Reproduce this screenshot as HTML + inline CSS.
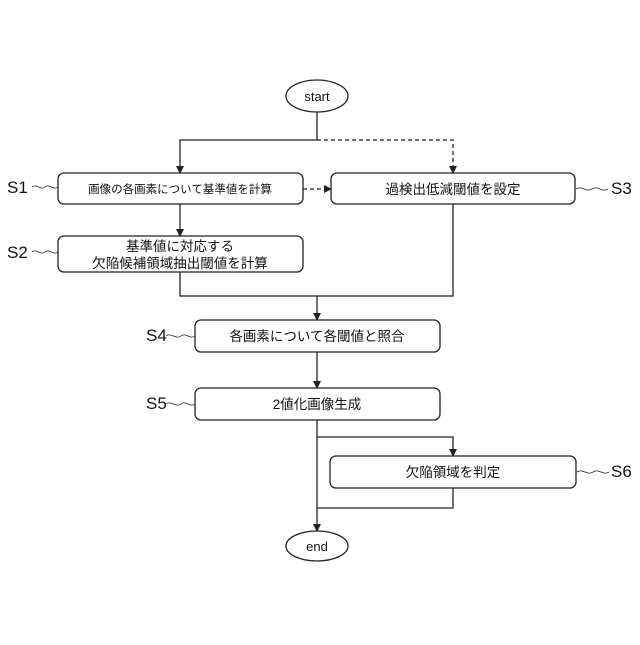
<!DOCTYPE html>
<html><head><meta charset="utf-8"><style>body{margin:0;background:#fff}</style></head><body>
<svg width="640" height="640" viewBox="0 0 640 640" xmlns="http://www.w3.org/2000/svg" font-family="Liberation Sans, Noto Sans CJK JP, sans-serif">
<defs><marker id="a" markerWidth="8" markerHeight="8" refX="7" refY="4" orient="auto" markerUnits="userSpaceOnUse"><path d="M0,0L8,4L0,8z" fill="#222"/></marker></defs>
<g fill="none" stroke="#222" stroke-width="1.3">
<ellipse cx="317" cy="96" rx="31" ry="16"/>
<ellipse cx="317" cy="546" rx="31" ry="15"/>
<rect x="58" y="173" width="245" height="31" rx="6"/>
<rect x="331" y="173" width="244" height="31" rx="6"/>
<rect x="58" y="236" width="245" height="36" rx="6"/>
<rect x="195" y="320" width="245" height="32" rx="6"/>
<rect x="195" y="388" width="245" height="32" rx="6"/>
<rect x="330" y="456" width="246" height="32" rx="6"/>
<path d="M317,112V140H180V173" marker-end="url(#a)"/>
<path d="M317,140H453V173" stroke-dasharray="4,3" marker-end="url(#a)"/>
<path d="M303,189H331" stroke-dasharray="4,3" marker-end="url(#a)"/>
<path d="M180,204V236" marker-end="url(#a)"/>
<path d="M180,272V296H453V204"/>
<path d="M317,296V320" marker-end="url(#a)"/>
<path d="M317,352V388" marker-end="url(#a)"/>
<path d="M317,420V531" marker-end="url(#a)"/>
<path d="M317,437H453V456" marker-end="url(#a)"/>
<path d="M453,488V508H317"/>
<path d="M32,187c5,-4 8,4 13,0s8,4 13,0" stroke-width="0.8"/>
<path d="M32,252c5,-4 8,4 13,0s8,4 13,0" stroke-width="0.8"/>
<path d="M576,189c6,-4 10,4 16,0s10,4 16,0" stroke-width="0.8"/>
<path d="M166,336c5,-4 10,4 15,0s9,4 14,0" stroke-width="0.8"/>
<path d="M166,404c5,-4 10,4 15,0s9,4 14,0" stroke-width="0.8"/>
<path d="M577,472c6,-4 10,4 16,0s10,4 16,0" stroke-width="0.8"/>
</g>
<g fill="#111" text-anchor="middle">
<text x="317" y="101" font-size="13">start</text>
<text x="317" y="551" font-size="13">end</text>
<text x="180" y="193" font-size="11.5">画像の各画素について基準値を計算</text>
<text x="453" y="194" font-size="13.5">過検出低減閾値を設定</text>
<text x="180" y="251" font-size="13.5">基準値に対応する</text>
<text x="180" y="268" font-size="13.5">欠陥候補領域抽出閾値を計算</text>
<text x="317" y="341" font-size="13.5">各画素について各閾値と照合</text>
<text x="317" y="409" font-size="13.5">2値化画像生成</text>
<text x="453" y="477" font-size="13.5">欠陥領域を判定</text>
</g>
<g fill="#111" font-size="17">
<text x="7" y="193">S1</text>
<text x="7" y="258">S2</text>
<text x="611" y="194">S3</text>
<text x="146" y="341">S4</text>
<text x="146" y="409">S5</text>
<text x="611" y="477">S6</text>
</g>
</svg>
</body></html>
